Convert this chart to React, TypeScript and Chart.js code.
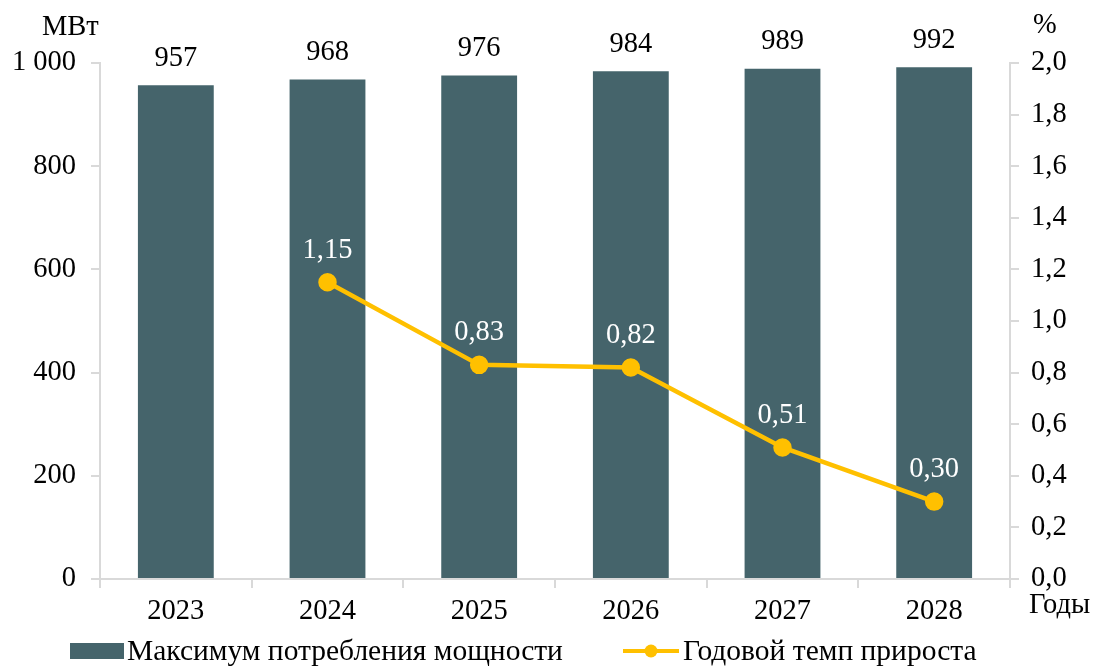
import React, { useEffect, useRef } from "react";
import { Chart, registerables } from "chart.js";

Chart.register(...registerables);

const years = ["2023", "2024", "2025", "2026", "2027", "2028"];
const maxPower = [957, 968, 976, 984, 989, 992];
const growthRate: (number | null)[] = [null, 1.15, 0.83, 0.82, 0.51, 0.3];
const leftTicks = [0, 200, 400, 600, 800, 1000];
const barLabel = "Максимум потребления мощности";
const lineLabel = "Годовой темп прироста";

const FONT_FAMILY = '"Liberation Serif", "Times New Roman", serif';
const FONT_SIZE = 28.5;
const LEGEND_FONT_SIZE = 29.5;
const BAR_COLOR = "#45646b";
const LINE_COLOR = "#ffc000";
const AXIS_COLOR = "#d9d9d9";

const fmtLeft = (v: number) => {
  const s = String(Math.round(v));
  return s.replace(/\B(?=(\d{3})+(?!\d))/g, " ");
};
const fmtRight = (v: number) => v.toFixed(1).replace(".", ",");
const fmtRate = (v: number) => v.toFixed(2).replace(".", ",");

const labelsPlugin = {
  id: "customLabels",
  afterDatasetsDraw(chart: any) {
    const ctx = chart.ctx;
    ctx.save();
    ctx.font = `${FONT_SIZE}px ${FONT_FAMILY}`;
    ctx.textAlign = "center";
    ctx.textBaseline = "middle";
    const barMeta = chart.getDatasetMeta(0);
    barMeta.data.forEach((el: any, i: number) => {
      ctx.fillStyle = "#000";
      ctx.fillText(String(maxPower[i]), el.x, el.y - 27);
    });
    const lineMeta = chart.getDatasetMeta(1);
    lineMeta.data.forEach((el: any, i: number) => {
      const v = growthRate[i];
      if (v == null) return;
      ctx.fillStyle = "#fff";
      ctx.fillText(fmtRate(v), el.x, el.y - 32);
    });
    ctx.restore();
  },
  afterDraw(chart: any) {
    const ctx = chart.ctx;
    ctx.save();
    ctx.font = `${FONT_SIZE}px ${FONT_FAMILY}`;
    ctx.fillStyle = "#000";
    ctx.textBaseline = "middle";
    ctx.textAlign = "left";
    ctx.fillText("МВт", 42, 28);
    ctx.fillText("%", 1033, 26);
    ctx.fillText("Годы", 1029, 606);
    // legend
    ctx.font = `${LEGEND_FONT_SIZE}px ${FONT_FAMILY}`;
    ctx.fillStyle = BAR_COLOR;
    ctx.fillRect(70, 643, 54, 16);
    ctx.fillStyle = "#000";
    ctx.fillText(barLabel, 127, 652);
    ctx.strokeStyle = LINE_COLOR;
    ctx.lineWidth = 4;
    ctx.beginPath();
    ctx.moveTo(623, 651);
    ctx.lineTo(679, 651);
    ctx.stroke();
    ctx.fillStyle = LINE_COLOR;
    ctx.beginPath();
    ctx.arc(651, 651, 6.5, 0, Math.PI * 2);
    ctx.fill();
    ctx.fillStyle = "#000";
    ctx.fillText(lineLabel, 683, 652);
    ctx.restore();
  },
};

export default function App() {
  const ref = useRef<HTMLCanvasElement | null>(null);
  useEffect(() => {
    document.body.style.margin = "0";
    const canvas = ref.current!;
    const font = { family: FONT_FAMILY, size: FONT_SIZE };
    const chart = new Chart(canvas, {
      type: "bar",
      data: {
        labels: years,
        datasets: [
          {
            type: "bar",
            label: barLabel,
            data: maxPower,
            backgroundColor: BAR_COLOR,
            yAxisID: "y",
            barPercentage: 0.5,
            categoryPercentage: 1,
            order: 2,
          },
          {
            type: "line",
            label: lineLabel,
            data: growthRate,
            borderColor: LINE_COLOR,
            backgroundColor: LINE_COLOR,
            borderWidth: 4.5,
            pointRadius: 7,
            pointHoverRadius: 7,
            pointBackgroundColor: LINE_COLOR,
            pointBorderColor: LINE_COLOR,
            yAxisID: "y1",
            order: 1,
            spanGaps: false,
          } as any,
        ],
      },
      options: {
        responsive: false,
        animation: false,
        devicePixelRatio: 1,
        layout: { padding: { top: 63, left: 0, right: 0, bottom: 0 } },
        plugins: {
          legend: { display: false },
          tooltip: { enabled: false },
        },
        scales: {
          x: {
            grid: {
              display: true,
              drawOnChartArea: false,
              color: AXIS_COLOR,
              lineWidth: 2,
              tickLength: 9,
              offset: true,
            },
            border: { color: AXIS_COLOR, width: 2 },
            ticks: { font, color: "#000", padding: 6, maxRotation: 0 },
            afterFit: (s: any) => {
              s.height = 87;
            },
          },
          y: {
            position: "left",
            min: 0,
            max: 1000,
            afterBuildTicks: (s: any) => {
              s.ticks = leftTicks.map((v) => ({ value: v }));
            },
            grid: {
              display: true,
              drawOnChartArea: false,
              color: AXIS_COLOR,
              lineWidth: 2,
              tickLength: 9,
            },
            border: { color: AXIS_COLOR, width: 2 },
            ticks: {
              font,
              color: "#000",
              padding: 15,
              callback: (v: any) => fmtLeft(Number(v)),
            },
            afterFit: (s: any) => {
              s.width = 100;
            },
          },
          y1: {
            position: "right",
            min: 0,
            max: 2,
            grid: {
              display: true,
              drawOnChartArea: false,
              color: AXIS_COLOR,
              lineWidth: 2,
              tickLength: 9,
            },
            border: { color: AXIS_COLOR, width: 2 },
            ticks: {
              font,
              color: "#000",
              padding: 12,
              stepSize: 0.2,
              callback: (v: any) => fmtRight(Number(v)),
            },
            afterFit: (s: any) => {
              s.width = 83;
            },
          },
        },
      },
      plugins: [labelsPlugin],
    });
    return () => chart.destroy();
  }, []);
  return (
    <div style={{ position: "absolute", left: 0, top: 0, width: 1093, height: 666 }}>
      <canvas ref={ref} width={1093} height={666} />
    </div>
  );
}
